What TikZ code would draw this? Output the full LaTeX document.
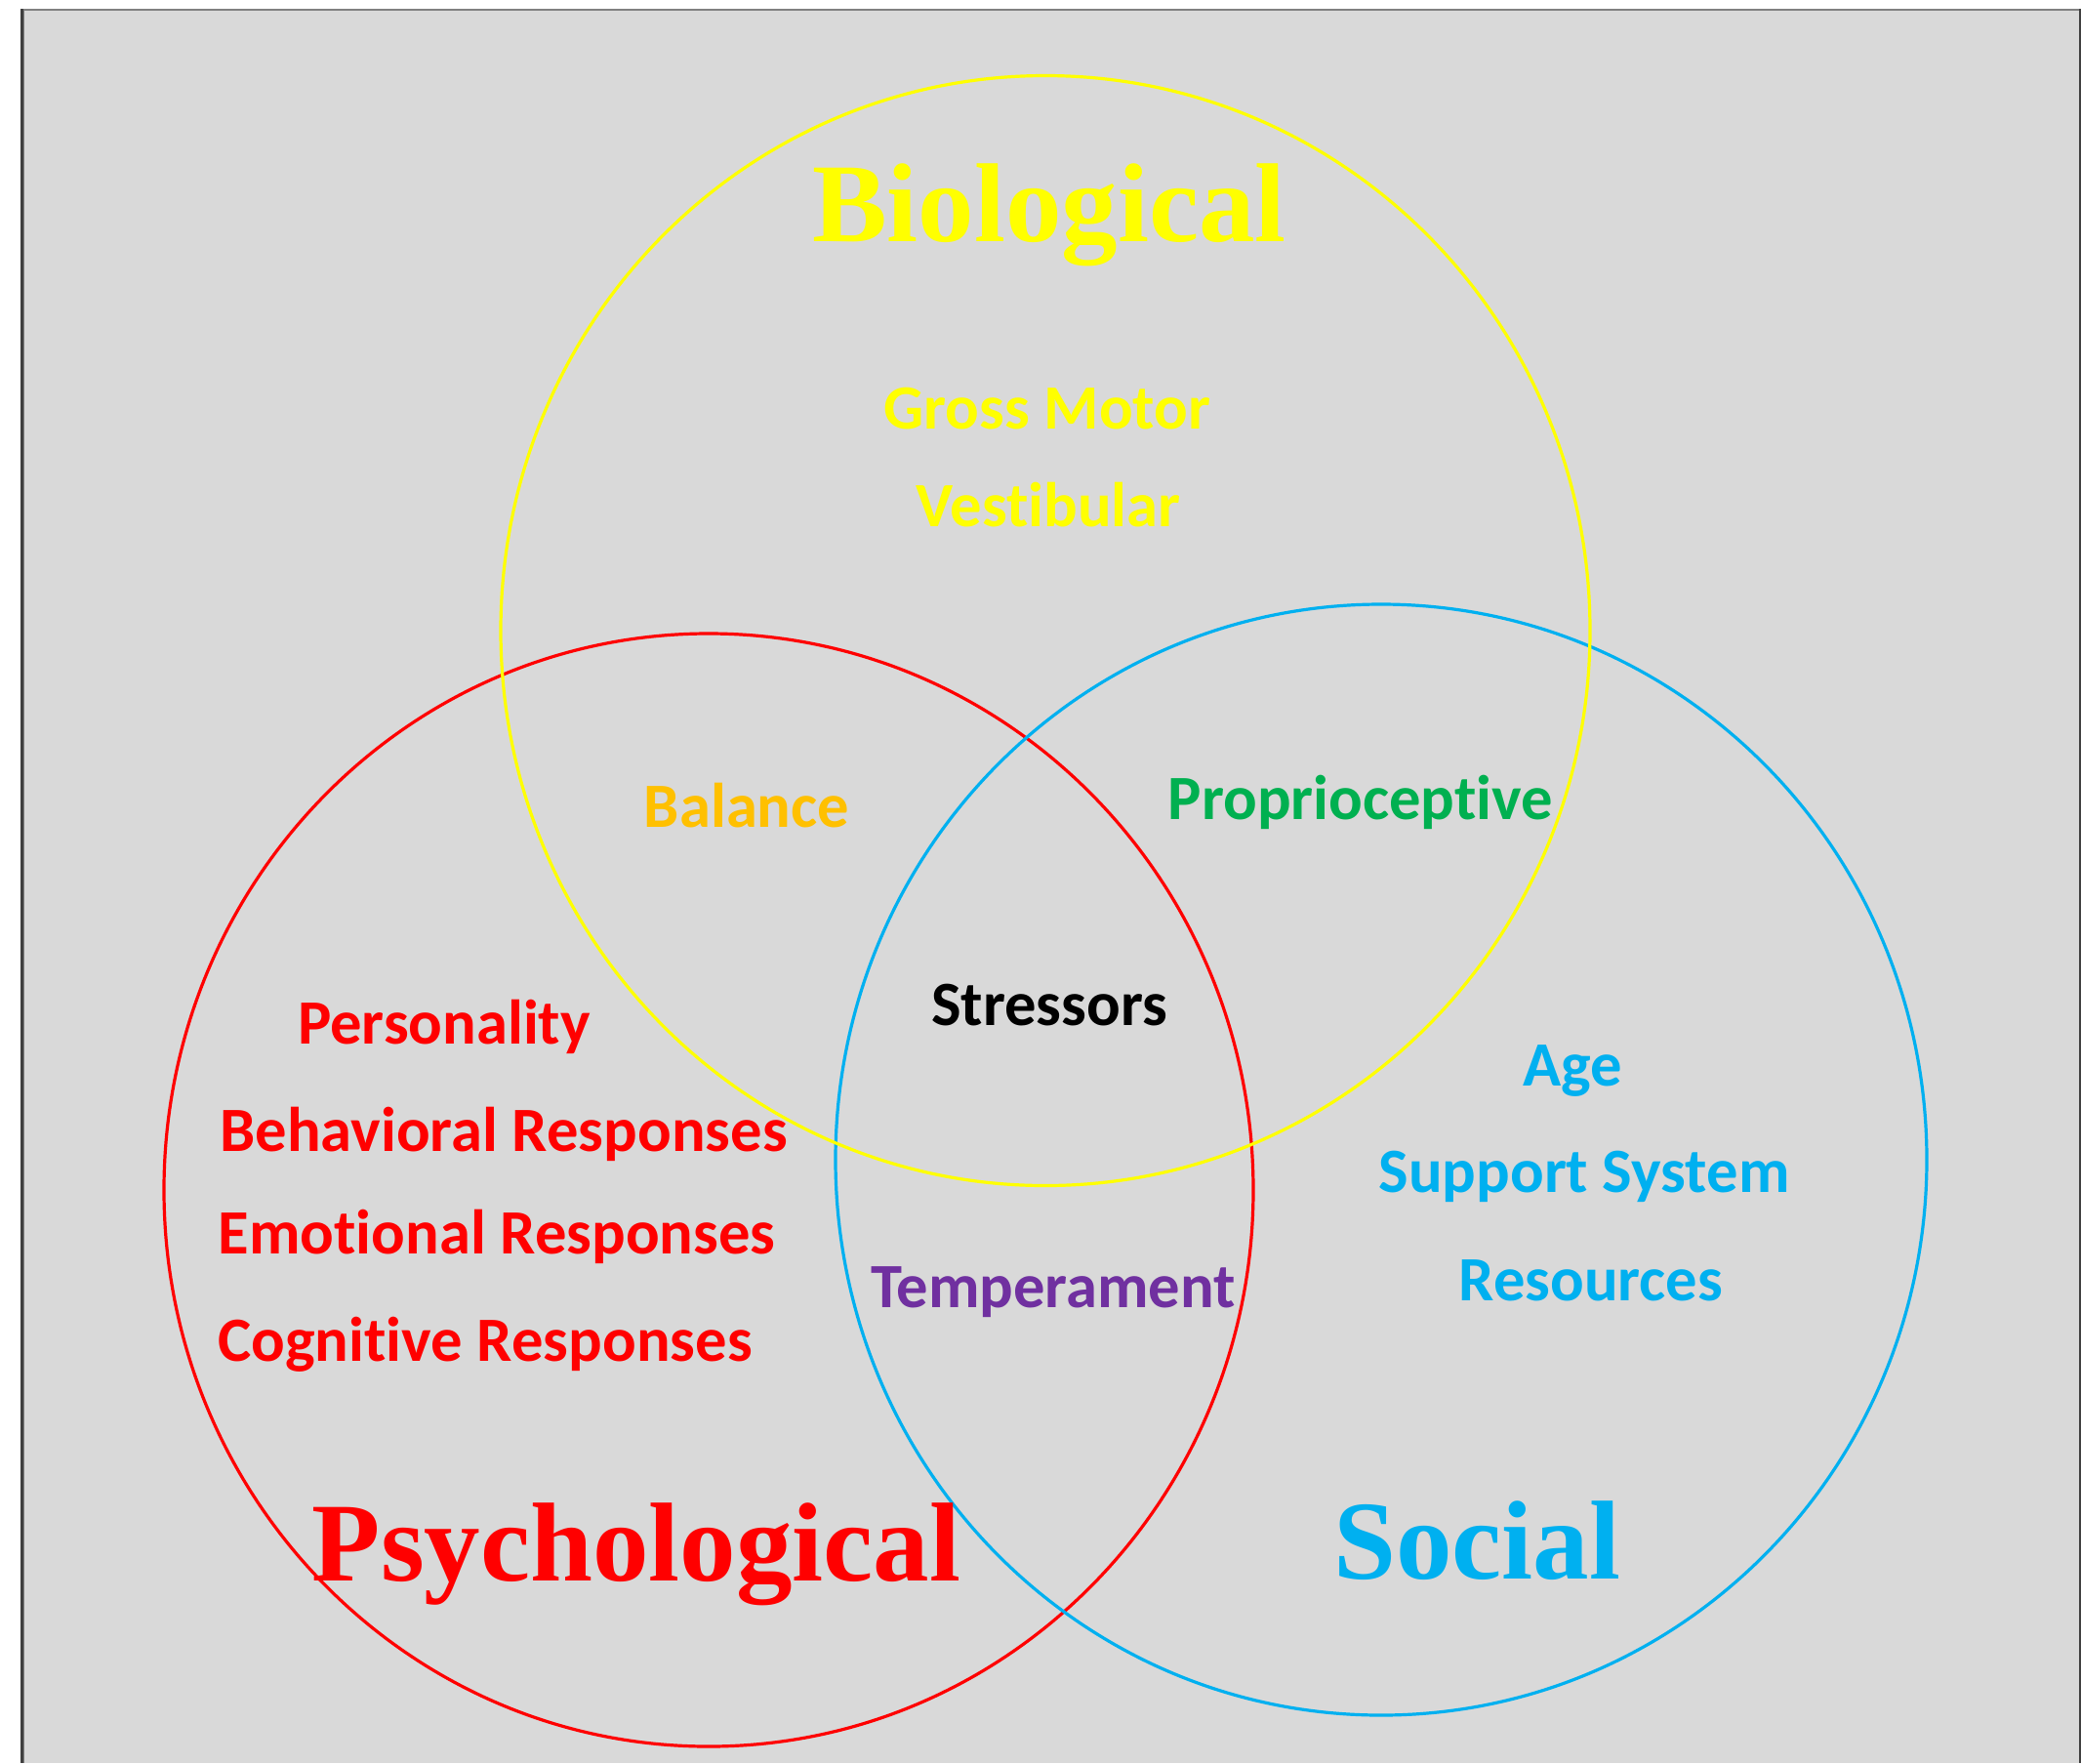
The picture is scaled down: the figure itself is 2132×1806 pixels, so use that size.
\documentclass[tikz,border=0pt]{standalone}
\usepackage{fontspec}
\setmainfont{Liberation Serif}
\newfontfamily\labfont[Ligatures=NoCommon]{Carlito}
\definecolor{bggray}{HTML}{D9D9D9}
\definecolor{framegray}{HTML}{808080}
\definecolor{framedark}{HTML}{404040}
\definecolor{bioc}{HTML}{FFFF00}
\definecolor{psyc}{HTML}{FF0000}
\definecolor{socc}{HTML}{00B0F0}
\definecolor{balc}{HTML}{FFC000}
\definecolor{propc}{HTML}{00B050}
\definecolor{tempc}{HTML}{7030A0}
\tikzset{
  bigtitle/.style={font=\fontsize{57.5}{60}\selectfont\bfseries, anchor=base, inner sep=0pt},
  smalllab/.style={font=\labfont\fontsize{32.3}{36}\selectfont\bfseries, anchor=base, inner sep=0pt},
  ring/.style={line width=1.6pt}
}
\begin{document}
\begin{tikzpicture}[x=0.5pt,y=-0.5pt]
\useasboundingbox (0,0) rectangle (2132,1806);
\fill[white] (0,0) rectangle (2132,1806);
\fill[bggray] (21,9) rectangle (2132,1806);
\fill[framegray] (21,9) rectangle (2132,10.5);
\fill[framedark] (21,9) rectangle (24,1806);
\fill[framegray] (24,9) rectangle (25,1806);
\fill[framedark] (2130,9) rectangle (2132,1806);

\coordinate (psyc0) at (726,1219);
\coordinate (socc0) at (1415,1188);
\coordinate (bioc0) at (1071,646);
\draw[ring, draw=psyc] (psyc0) ellipse [x radius=279pt, y radius=285pt];
\draw[ring, draw=socc] (socc0) ellipse [x radius=279.5pt, y radius=284.5pt];
\draw[ring, draw=bioc] (bioc0) ellipse [x radius=279pt, y radius=284.25pt];

\node[bigtitle, text=bioc] (biot) at (1075,247) {Biological};
\node[smalllab, text=bioc] (gross) at (1073,439) {Gross Motor};
\node[smalllab, text=bioc] (vest) at (1074,539) {Vestibular};
\node[smalllab, text=balc] (bal) at (765,847) {Balance};
\node[smalllab, text=propc] (prop) at (1394,839) {Proprioceptive};
\node[smalllab, text=black] (stress) at (1075,1050) {Stressors};
\node[smalllab, text=psyc] (pers) at (455,1069) {Personality};
\node[smalllab, text=psyc] (beh) at (516,1179) {Behavioral Responses};
\node[smalllab, text=psyc] (emo) at (509,1284) {Emotional Responses};
\node[smalllab, text=psyc] (cog) at (497,1394) {Cognitive Responses};
\node[smalllab, text=tempc] (temp) at (1079,1339) {Temperament};
\node[smalllab, text=socc] (age) at (1611,1112) {Age};
\node[smalllab, text=socc] (sup) at (1623,1221) {Support System};
\node[smalllab, text=socc] (res) at (1630,1332) {Resources};
\node[bigtitle, text=psyc] (psyt) at (652,1619) {Psychological};
\node[bigtitle, text=socc] (soct) at (1513,1617) {Social};
\end{tikzpicture}
\end{document}
